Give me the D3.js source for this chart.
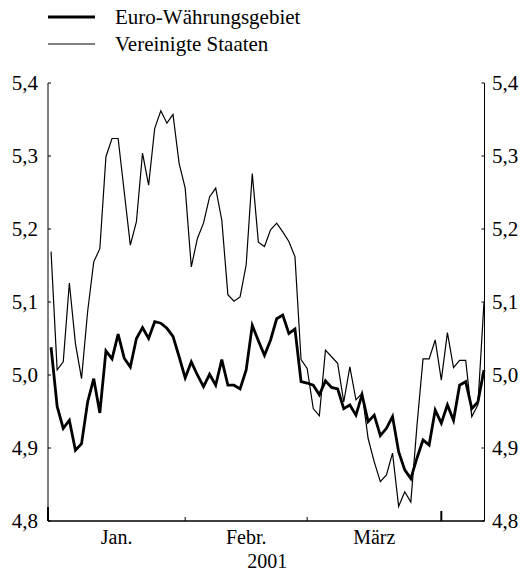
<!DOCTYPE html>
<html><head><meta charset="utf-8">
<script src="https://cdn.jsdelivr.net/npm/d3@7"></script>
<style>
html,body{margin:0;padding:0;background:#fff;}
</style></head>
<body><svg id="c" width="526" height="574"></svg>
<script>
// ---- data ----
const seriesNames = ["Euro-Währungsgebiet", "Vereinigte Staaten"];
const euro = [5.038,4.957,4.927,4.938,4.897,4.906,4.963,4.995,4.948,5.033,5.022,5.056,5.023,5.011,5.050,5.065,5.050,5.073,
  5.071,5.064,5.053,5.025,4.996,5.018,5.000,4.984,5.001,4.986,5.021,4.986,4.986,4.981,5.007,5.068,5.047,
  5.027,5.048,5.077,5.082,5.057,5.063,4.991,4.989,4.986,4.973,4.992,4.983,4.981,4.954,4.959,4.945,4.973,
  4.936,4.945,4.917,4.927,4.943,4.895,4.870,4.858,4.886,4.911,4.904,4.952,4.934,4.959,4.938,4.986,4.991,4.954,4.963,5.007];
const us = [5.169,5.007,5.018,5.126,5.043,4.995,5.087,5.155,5.173,5.299,5.324,5.324,5.251,5.178,5.210,5.304,5.260,5.338,
  5.362,5.345,5.357,5.290,5.256,5.148,5.187,5.208,5.244,5.256,5.212,5.110,5.101,5.107,5.151,5.276,5.182,
  5.176,5.199,5.208,5.196,5.183,5.162,5.021,5.009,4.954,4.944,5.034,5.025,5.016,4.963,5.011,4.966,4.975,
  4.913,4.881,4.854,4.863,4.893,4.820,4.840,4.826,4.930,5.022,5.022,5.048,4.993,5.058,5.010,5.020,5.020,4.943,4.959,5.100];
const yTicks = [4.8, 4.9, 5.0, 5.1, 5.2, 5.3, 5.4];
const monthLabels = ["Jan.", "Febr.", "März"];
const yearLabel = "2001";
const startDate = new Date(2001, 0, 2);

// business days matching the series
const dates = [];
for (let d = new Date(startDate); dates.length < euro.length; d = d3.timeDay.offset(d, 1)) {
  const w = d.getDay(); if (w !== 0 && w !== 6) dates.push(new Date(d));
}

const FONT = "'Liberation Serif', 'Times New Roman', 'DejaVu Serif', serif";
const svg = d3.select("#c").attr("font-family", FONT);
const txt = (g, fs) => g.append("text").style("font-family", FONT).attr("fill", "#000").attr("font-size", fs || 20);

const L = 48, R = 484.5, T = 83, B = 521;
const x = d3.scaleLinear().domain([-0.5, euro.length - 1]).range([L, R - 0.5]);
const y = d3.scaleLinear().domain([4.8, 5.4]).range([B, T]);
const fmt = v => d3.format(".1f")(v).replace(".", ",");

// axes frame
svg.append("line").attr("x1", L).attr("x2", L).attr("y1", T).attr("y2", B).attr("stroke", "#000").attr("stroke-width", 1);
svg.append("line").attr("x1", R).attr("x2", R).attr("y1", T).attr("y2", B).attr("stroke", "#000").attr("stroke-width", 1);
svg.append("line").attr("x1", L).attr("x2", R).attr("y1", B).attr("y2", B).attr("stroke", "#000").attr("stroke-width", 1.5);

// y ticks both sides (inward)
const yl = svg.append("g");
yTicks.forEach(t => {
  yl.append("line").attr("x1", L).attr("x2", L + 3).attr("y1", y(t)).attr("y2", y(t)).attr("stroke", "#000");
  yl.append("line").attr("x1", R).attr("x2", R - 3).attr("y1", y(t)).attr("y2", y(t)).attr("stroke", "#000");
  txt(yl, 21).attr("x", 38).attr("y", y(t)).attr("dy", "0.33em").attr("text-anchor", "end").text(fmt(t));
  txt(yl, 21).attr("x", 492).attr("y", y(t)).attr("dy", "0.33em").attr("text-anchor", "start").text(fmt(t));
});

// month ticks: first business day of each month, quarter starts longer
const monthStarts = [];
dates.forEach((d, i) => { if (i === 0 || d.getMonth() !== dates[i - 1].getMonth()) monthStarts.push({i, m: d.getMonth()}); });
const tickX = monthStarts.map(s => s.i === 0 ? L : x(s.i));
monthStarts.forEach((s, k) => {
  const q = s.m % 3 === 0;
  svg.append("line").attr("x1", tickX[k]).attr("x2", tickX[k]).attr("y1", B).attr("y2", B - (q ? (k === 0 ? 14 : 10) : 4))
    .attr("stroke", "#000").attr("stroke-width", q ? 2 : 1);
});
monthLabels.forEach((lab, k) => {
  txt(svg).attr("x", (tickX[k] + tickX[k + 1]) / 2).attr("y", 544).attr("text-anchor", "middle").text(lab);
});
txt(svg, 20).attr("x", (L + R) / 2 + 1).attr("y", 568).attr("text-anchor", "middle").text(yearLabel);

// lines
const line = d3.line().x((d, i) => x(i)).y(d => y(d));
svg.append("path").datum(us).attr("d", line).attr("fill", "none").attr("stroke", "#000").attr("stroke-width", 1.2).attr("stroke-linejoin", "miter");
svg.append("path").datum(euro).attr("d", line).attr("fill", "none").attr("stroke", "#000").attr("stroke-width", 2.8).attr("stroke-linejoin", "miter");

// legend
const leg = [{name: seriesNames[0], w: 3, yy: 17}, {name: seriesNames[1], w: 1.2, yy: 44}];
leg.forEach(l => {
  svg.append("line").attr("x1", 48).attr("x2", 95).attr("y1", l.yy).attr("y2", l.yy).attr("stroke", "#000").attr("stroke-width", l.w);
  txt(svg, 21).attr("x", 115).attr("y", l.yy).attr("dy", "0.33em").text(l.name);
});
</script></body></html>
